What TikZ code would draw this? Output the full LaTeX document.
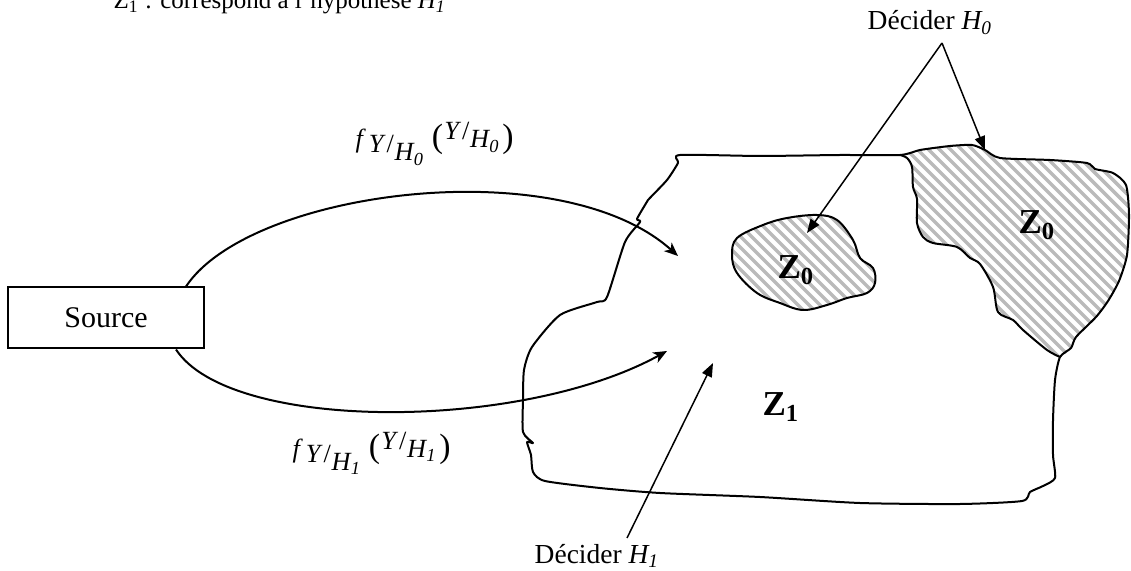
\documentclass[tikz,border=0pt]{standalone}
\usepackage{fontspec}
\setmainfont{Liberation Serif}
\usepackage{tikz}
\usetikzlibrary{calc,arrows.meta}

% bevelled fraction Y/H_i
\newcommand{\bevel}[1]{\textit{Y}\kern0.3pt/\kern0.3pt\raisebox{-3.2pt}{\textit{H}\kern-0.3pt\textsubscript{\textit{#1}}}}
\newcommand{\densite}[1]{\textit{f}\kern1.2pt\raisebox{-2pt}{\bevel{#1}}\kern3pt{\fontsize{13.5}{13.5}\selectfont(}\kern0.5pt\raisebox{3.2pt}{\bevel{#1}}\kern1pt{\fontsize{13.5}{13.5}\selectfont)}}

\begin{document}
\begin{tikzpicture}[x=0.4pt, y=-0.4pt,
    every node/.style={inner sep=0pt},
    outline/.style={line width=0.8pt, line join=round},
    hatch/.style={line width=1.4pt, black!27},
    flow/.style={-{Stealth[length=5.5pt,width=4.6pt,inset=1.6pt]}, line width=0.8pt},
    pointer/.style={-{Triangle[length=5.5pt,width=4.2pt]}, line width=0.6pt},
    zlabel/.style={font=\fontsize{14}{16}\selectfont\bfseries}]
    \useasboundingbox (0,0) rectangle (1131,571);

    % Legend line (cut by the page edge)
    \node[anchor=base west, font=\fontsize{10}{12}\selectfont] (legend) at (113,9)
        {Z\textsubscript{1} : correspond à l'hypothèse \textit{H\textsubscript{1}}};

    % Source and the two densities
    \node[draw, line width=0.8pt, minimum width=78.4pt, minimum height=24.4pt,
        font=\fontsize{12}{14}\selectfont] (source) at (106,318) {Source};
    \coordinate (h0tip) at (678,256);
    \coordinate (h1tip) at (667,351);
    \draw[flow] ($(source.north east)+(-19,0)$) .. controls (250,190) and (560,150) .. (h0tip);
    \draw[flow] ($(source.south east)+(-29,0)$) .. controls (230,432) and (520,432) .. (h1tip);
    \node[anchor=base west, font=\fontsize{10.5}{12}\selectfont] (f0) at (355,148) {\densite{0}};
    \node[anchor=base west, font=\fontsize{10.5}{12}\selectfont] (f1) at (292,457) {\densite{1}};

    % Hatched zones Z0
    \begin{scope}
        \clip plot[smooth cycle, tension=0.5] coordinates {(900,155) (907,158) (912,167) (913,187)
            (917,199) (917,223) (923,237) (933,243) (957,247) (970,258) (980,264) (993,287)
            (998,312) (1013,320) (1023,330) (1047,350) (1060,357) (1071,348) (1076,337)
            (1096,317) (1108,301) (1119,281) (1127,255) (1129,215) (1126,185) (1113,173)
            (1095,169) (1087,163) (1050,160) (1000,158) (985,150) (972,145) (950,146) (920,150)};
        \foreach \i in {0,...,55} \draw[hatch] (560+\i*11,100) -- ++(320,320);
    \end{scope}
    \begin{scope}
        \clip plot[smooth cycle, tension=0.6] coordinates {(737,238) (763,225) (787,218) (817,215)
            (837,220) (853,240) (860,258) (873,268) (875,283) (867,293) (847,298) (827,305)
            (803,310) (780,303) (757,293) (737,273) (732,255)};
        \foreach \i in {0,...,55} \draw[hatch] (560+\i*11,100) -- ++(320,320);
    \end{scope}

    % Observation space Z1
    \draw[outline] plot[smooth cycle, tension=0.4] coordinates {(680,155) (760,156) (840,155)
        (900,155) (920,150) (950,146) (972,145) (985,150) (1000,158) (1050,160) (1087,163)
        (1095,169) (1113,173) (1126,185) (1129,215) (1127,255) (1119,281) (1108,301)
        (1096,317) (1076,337) (1071,348) (1060,357) (1055,380) (1053,420) (1053,455)
        (1055,478) (1043,486) (1030,492) (1022,501) (960,504) (860,503) (760,497) (660,493)
        (600,488) (545,481) (533,472) (531,455) (527,442) (533,443) (523,432) (523,400)
        (524,370) (532,347) (560,315) (597,302) (607,297) (625,242) (640,222) (637,219)
        (645,205) (648,200) (667,180) (678,163)};
    \draw[outline] plot[smooth, tension=0.5] coordinates {(900,155) (907,158) (912,167) (913,187)
        (917,199) (917,223) (923,237) (933,243) (957,247) (970,258) (980,264) (993,287)
        (998,312) (1013,320) (1023,330) (1047,350) (1060,357)};
    \draw[outline] plot[smooth cycle, tension=0.6] coordinates {(737,238) (763,225) (787,218)
        (817,215) (837,220) (853,240) (860,258) (873,268) (875,283) (867,293) (847,298)
        (827,305) (803,310) (780,303) (757,293) (737,273) (732,255)};

    \node[zlabel] (zsmall) at (796,270) {Z\textsubscript{0}};
    \node[zlabel] (zbig) at (1037,225) {Z\textsubscript{0}};
    \node[zlabel] (zone) at (781,407) {Z\textsubscript{1}};

    % Decision pointers
    \node[anchor=base, font=\fontsize{11}{13}\selectfont] (decide0) at (930,30) {Décider \textit{H\textsubscript{0}}};
    \coordinate (apex) at (942,43);
    \coordinate (tipsmall) at (807,233);
    \coordinate (tipbig) at (985,150);
    \draw[pointer] (apex) -- (tipsmall);
    \draw[pointer] (apex) -- (tipbig);

    \node[anchor=base, font=\fontsize{11}{13}\selectfont] (decide1) at (597,563) {Décider \textit{H\textsubscript{1}}};
    \coordinate (foot) at (627,538);
    \coordinate (tipone) at (713,363);
    \draw[pointer] (foot) -- (tipone);
\end{tikzpicture}
\end{document}
